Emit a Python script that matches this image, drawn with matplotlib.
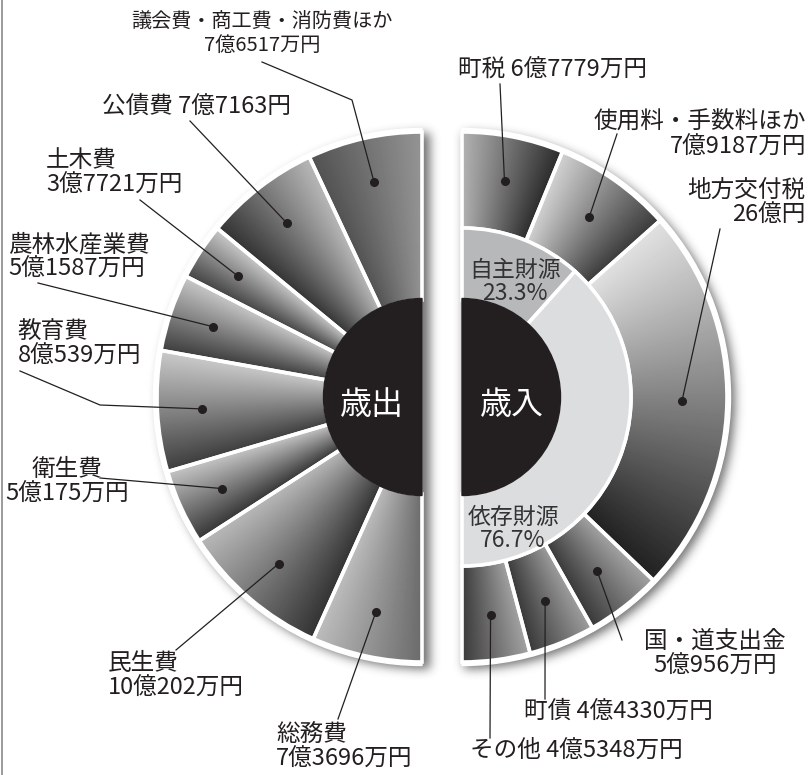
import numpy as np
import matplotlib.pyplot as plt
from matplotlib.patches import Wedge

plt.rcParams["font.family"] = ["Noto Sans CJK JP", "DejaVu Sans"]

# 歳出 (万円), clockwise from the top on the left half
exp_names = ["議会費・商工費・消防費ほか", "公債費", "土木費", "農林水産業費",
             "教育費", "衛生費", "民生費", "総務費"]
exp_amounts = ["7億6517万円", "7億7163円", "3億7721万円", "5億1587万円",
               "8億539万円", "5億175万円", "10億202万円", "7億3696万円"]
exp_values = [76517, 77163, 37721, 51587, 80539, 50175, 100202, 73696]

# 歳入 (万円), from the top on the right half
rev_names = ["町税", "使用料・手数料ほか", "地方交付税", "国・道支出金", "町債", "その他"]
rev_amounts = ["6億7779万円", "7億9187万円", "26億円", "5億956万円",
               "4億4330万円", "4億5348万円"]
rev_values = [67779, 79187, 260000, 50956, 44330, 45348]

# 財源の内訳 (%)
src_names = ["自主財源", "依存財源"]
src_shares = [23.3, 76.7]

W, H = 810, 775
INK = "#231f20"
R, R_RING, R_HOLE = 265, 169, 97
CY = H - 397
CX_L, CX_R = 422, 462

# gray level at the first / last side of every wedge
exp_shade = [(0.58, 0.32), (0.72, 0.20), (0.78, 0.26), (0.78, 0.24),
             (0.79, 0.24), (0.77, 0.21), (0.72, 0.20), (0.74, 0.42)]
rev_shade = [(0.70, 0.17), (0.82, 0.23), (0.88, 0.13), (0.64, 0.22),
             (0.62, 0.22), (0.64, 0.23)]


def blur(a, s):
    k = np.exp(-0.5 * (np.arange(-3 * s, 3 * s + 1) / s) ** 2)
    k /= k.sum()
    a = np.apply_along_axis(lambda r: np.convolve(r, k, mode="same"), 1, a)
    a = np.apply_along_axis(lambda c: np.convolve(c, k, mode="same"), 0, a)
    return a


def shade(ax, wedges, levels, cx, clockwise):
    x0, x1 = (cx - R - 6, cx + 2) if not clockwise else (cx - 2, cx + R + 6)
    gx = np.arange(x0, x1) + 0.5
    gy = np.arange(CY - R - 6, CY + R + 6) + 0.5
    X, Y = np.meshgrid(gx, gy)
    ang = np.degrees(np.arctan2(Y - CY, X - cx))
    for w, (a, b) in zip(wedges, levels):
        t = ((ang - w.theta1) % 360) / (w.theta2 - w.theta1)
        t = np.clip(t, 0, 1)
        if clockwise:
            t = 1 - t
        img = a + (b - a) * t
        im = ax.imshow(img, extent=(x0, x1, gy[0] - 0.5, gy[-1] + 0.5),
                       origin="lower", cmap="gray", vmin=0, vmax=1,
                       interpolation="bilinear", zorder=2)
        im.set_clip_path(w)
        w.set_facecolor("none")
        w.set_zorder(3)


fig = plt.figure(figsize=(W / 100, H / 100), dpi=100)
ax = fig.add_axes([0, 0, 1, 1])

# drop shadow behind both halves
X, Y = np.meshgrid(np.arange(W) + 0.5, np.arange(H) + 0.5)
d_l = np.hypot(X - CX_L, Y - CY)
d_r = np.hypot(X - CX_R, Y - CY)
mask = (((d_l <= R + 3) & (X <= CX_L + 3)) | ((d_r <= R + 3) & (X >= CX_R - 3))).astype(float)
mask = np.roll(np.roll(mask, 5, axis=1), -4, axis=0)
sh = blur(mask, 5)
rgba = np.zeros((H, W, 4))
rgba[..., :3] = 0.15
rgba[..., 3] = sh * 0.65
ax.imshow(rgba, extent=(0, W, 0, H), origin="lower", zorder=0.5)

# white rims
ax.add_patch(Wedge((CX_L, CY), R + 3.5, 90, 270, color="white", zorder=1))
ax.add_patch(Wedge((CX_R, CY), R + 3.5, -90, 90, color="white", zorder=1))

edge = dict(edgecolor="white", linewidth=2.6)
tot_e = sum(exp_values)
w_exp, _ = ax.pie([v / tot_e / 2 for v in exp_values], radius=R, center=(CX_L, CY),
                  startangle=90, counterclock=True, normalize=False,
                  wedgeprops=dict(width=R - R_HOLE, **edge))
tot_r = sum(rev_values)
w_rev, _ = ax.pie([v / tot_r / 2 for v in rev_values], radius=R, center=(CX_R, CY),
                  startangle=90, counterclock=False, normalize=False,
                  wedgeprops=dict(width=R - R_RING, **edge))
w_src, _ = ax.pie([s / 200 for s in src_shares], radius=R_RING, center=(CX_R, CY),
                  startangle=90, counterclock=False, normalize=False,
                  colors=["#b7b8ba", "#dcdddf"],
                  wedgeprops=dict(width=R_RING - R_HOLE, **edge))
for w in w_src:
    w.set_zorder(3)

shade(ax, w_exp, exp_shade, CX_L, False)
shade(ax, w_rev, rev_shade, CX_R, True)

# black centres
ax.add_patch(Wedge((CX_L, CY), R_HOLE + 1.5, 90, 270, color=INK, zorder=4))
ax.add_patch(Wedge((CX_R, CY), R_HOLE + 1.5, -90, 90, color=INK, zorder=4))
ax.text(CX_L - 50, CY - 8, "歳出", color="white", fontsize=23, ha="center", va="center", zorder=5)
ax.text(CX_R + 50, CY - 8, "歳入", color="white", fontsize=23, ha="center", va="center", zorder=5)

# ring labels
src_pos = [(515, 282), (513, 529)]
for name, share, (x, y) in zip(src_names, src_shares, src_pos):
    ax.text(x, H - y, f"{name}\n{share}%", fontsize=16.5, color="#333333",
            ha="center", va="center", linespacing=1.05, zorder=5)

# labels: anchor (pixel), ha, leader end, optional bend
exp_layout = [
    ((262, 34), "center", (262, 62), (352, 100)),
    ((196, 106), "center", (190, 121), None),
    ((46, 173), "left", (140, 200), None),
    ((8, 257), "left", (38, 283), None),
    ((18, 344), "left", (20, 371), (100, 405)),
    ((67, 482), "center", (100, 478), None),
    ((108, 676), "left", (176, 650), None),
    ((276, 747), "left", (338, 719), None),
]
rev_layout = [
    ((458, 70), "left", (500, 84), None),
    ((806, 135), "right", (617, 134), None),
    ((805, 203), "right", (720, 229), None),
    ((715, 654), "center", (622, 640), None),
    ((524, 711), "left", (545, 699), None),
    ((470, 750), "left", (490, 738), None),
]
one_line = {"公債費", "町税", "町債", "その他"}


def place(wedges, names, amounts, layout):
    for w, name, amt, ((lx, ly), ha, end, bend) in zip(wedges, names, amounts, layout):
        mid = np.radians((w.theta1 + w.theta2) / 2)
        px = w.center[0] + 220 * np.cos(mid)
        py = w.center[1] + 220 * np.sin(mid)
        xs, ys = [px], [py]
        if bend:
            xs.append(bend[0]); ys.append(H - bend[1])
        xs.append(end[0]); ys.append(H - end[1])
        ax.plot(xs, ys, color=INK, lw=0.9, zorder=6)
        ax.plot(px, py, "o", ms=5.5, color=INK, zorder=7)
        text = f"{name} {amt}" if name in one_line else f"{name}\n{amt}"
        fs = 14.5 if name.startswith("議会費") else 17
        ax.text(lx, H - ly, text, fontsize=fs, color=INK, ha=ha, va="center",
                multialignment=ha, linespacing=1.1, zorder=6)


place(w_exp, exp_names, exp_amounts, exp_layout)
place(w_rev, rev_names, rev_amounts, rev_layout)

ax.axvline(1.5, color="#8a8a8a", lw=1.2)
ax.set_xlim(0, W)
ax.set_ylim(0, H)
ax.set_aspect("auto")
ax.axis("off")
fig.savefig("out.png", dpi=100, facecolor="white")
